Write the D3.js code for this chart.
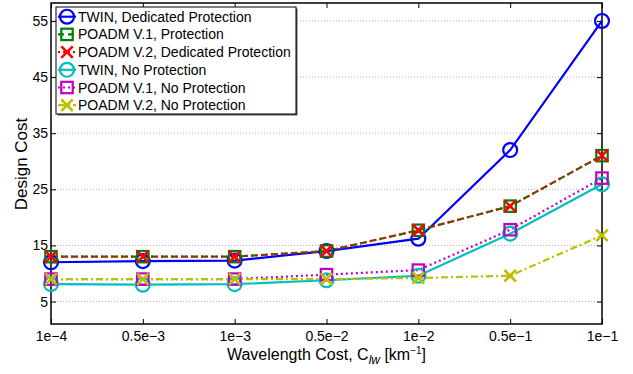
<!DOCTYPE html>
<html>
<head>
<meta charset="utf-8">
<script src="https://cdn.jsdelivr.net/npm/d3@7"></script>
<style>
  html, body { margin: 0; padding: 0; background: #fff; }
  svg { display: block; font-family: "Liberation Sans", Arial, Helvetica, sans-serif; }
</style>
</head>
<body>
<svg id="chart" width="633" height="374"></svg>
<script>
// Wavelength cost levels (x categories)
const categories = ["1e\u22124", "0.5e\u22123", "1e\u22123", "0.5e\u22122", "1e\u22122", "0.5e\u22121", "1e\u22121"];
const yTicks = [5, 15, 25, 35, 45, 55];

// Design cost per scheme
const twinDedicated   = [12, 12.2, 12.3, 14, 16.2, 32, 55];
const poadm1Protect   = [13, 13, 13, 14, 17.7, 22, 31];
const poadm2Dedicated = [13, 13, 13, 14, 17.7, 22, 31];
const twinNoProt      = [8.1, 8, 8.1, 8.8, 9.6, 17.1, 25.9];
const poadm1NoProt    = [9, 9, 9, 9.8, 10.6, 17.8, 27];
const poadm2NoProt    = [9, 9, 9, 9, 9.2, 9.6, 16.8];

const seriesNames = [
  "TWIN, Dedicated Protection",
  "POADM V.1, Protection",
  "POADM V.2, Dedicated Protection",
  "TWIN, No Protection",
  "POADM V.1, No Protection",
  "POADM V.2, No Protection"
];

const series = [
  { name: seriesNames[0], values: twinDedicated,   color: "#0000ff", dash: null,      marker: "circle" },
  { name: seriesNames[1], values: poadm1Protect,   color: "#008000", dash: "6,4",     marker: "square" },
  { name: seriesNames[2], values: poadm2Dedicated, color: "#ff0000", dash: "2,3",     marker: "cross" },
  { name: seriesNames[3], values: twinNoProt,      color: "#00bfbf", dash: null,      marker: "circle" },
  { name: seriesNames[4], values: poadm1NoProt,    color: "#bf00bf", dash: "2,3",     marker: "square" },
  { name: seriesNames[5], values: poadm2NoProt,    color: "#bfbf00", dash: "7,3,2,3", marker: "cross" }
];

const svg = d3.select("#chart");
const m = { left: 51, right: 31, top: 3, bottom: 50 };
const W = 633, H = 374;
const iw = W - m.left - m.right, ih = H - m.top - m.bottom;

const x = d3.scalePoint().domain(categories).range([0, iw]);
const y = d3.scaleLinear().domain([1, 58.2]).range([ih, 0]);

const g = svg.append("g").attr("transform", `translate(${m.left},${m.top})`);

// Horizontal dotted grid
g.append("g").selectAll("line").data(yTicks).join("line")
  .attr("x1", 0).attr("x2", iw)
  .attr("y1", d => y(d)).attr("y2", d => y(d))
  .attr("stroke", "#b0b0b0").attr("stroke-width", 1).attr("stroke-dasharray", "1,2");

// Axes with inward ticks
const tickLen = 5;
const xAxis = g.append("g").attr("transform", `translate(0,${ih})`)
  .call(d3.axisBottom(x).tickSizeInner(-tickLen).tickSizeOuter(0).tickPadding(7));
const xTop = g.append("g")
  .call(d3.axisTop(x).tickSizeInner(-tickLen).tickSizeOuter(0).tickFormat(""));
const yAxis = g.append("g")
  .call(d3.axisLeft(y).tickValues(yTicks).tickSizeInner(-tickLen).tickSizeOuter(0).tickPadding(3));
const yRight = g.append("g").attr("transform", `translate(${iw},0)`)
  .call(d3.axisRight(y).tickValues(yTicks).tickSizeInner(-tickLen).tickSizeOuter(0).tickFormat(""));

[xAxis, xTop, yAxis, yRight].forEach(a => {
  a.select(".domain").remove();
  a.selectAll("line").attr("stroke", "#000").attr("stroke-width", 1);
  a.selectAll("text").attr("fill", "#000").style("font-size", "14px")
    .style("font-family", "'Liberation Sans', Arial, sans-serif");
});

// Frame
g.append("rect").attr("x", 0).attr("y", 0).attr("width", iw).attr("height", ih)
  .attr("fill", "none").attr("stroke", "#000").attr("stroke-width", 1.5);

// Marker drawing helper
function drawMarker(sel, type, color, size) {
  if (type === "circle") {
    sel.append("circle").attr("r", size * 0.58).attr("fill", "none")
      .attr("stroke", color).attr("stroke-width", 2.2);
  } else if (type === "square") {
    const s = size * 0.95;
    sel.append("rect").attr("x", -s / 2).attr("y", -s / 2).attr("width", s).attr("height", s)
      .attr("fill", "none").attr("stroke", color).attr("stroke-width", 2.2);
  } else {
    const s = size * 0.48;
    sel.append("path").attr("d", `M${-s},${-s}L${s},${s}M${-s},${s}L${s},${-s}`)
      .attr("stroke", color).attr("stroke-width", 2.6).attr("fill", "none");
  }
}

const line = d3.line().x((d, i) => x(categories[i])).y(d => y(d));

// Lines
series.forEach(s => {
  g.append("path").datum(s.values)
    .attr("d", line)
    .attr("fill", "none")
    .attr("stroke", s.color)
    .attr("stroke-width", 2.2)
    .attr("stroke-dasharray", s.dash);
});

// Markers
series.forEach(s => {
  g.append("g").selectAll("g").data(s.values).join("g")
    .attr("transform", (d, i) => `translate(${x(categories[i])},${y(d)})`)
    .each(function () { drawMarker(d3.select(this), s.marker, s.color, 12); });
});

// Legend
const lg = svg.append("g").attr("transform", "translate(56,7)");
lg.append("rect").attr("x", 1.5).attr("y", 1.5).attr("width", 240).attr("height", 107)
  .attr("fill", "#555");
lg.append("rect").attr("x", 0).attr("y", 0).attr("width", 240).attr("height", 107)
  .attr("fill", "#fff").attr("stroke", "#000").attr("stroke-width", 1);
series.forEach((s, i) => {
  const row = lg.append("g").attr("transform", `translate(0,${9.7 + i * 17.7})`);
  row.append("line").attr("x1", 2).attr("x2", 20).attr("y1", 0).attr("y2", 0)
    .attr("stroke", s.color).attr("stroke-width", 2.2).attr("stroke-dasharray", s.dash);
  const mk = row.append("g").attr("transform", "translate(11,0)");
  drawMarker(mk, s.marker, s.color, 12);
  row.append("text").attr("x", 22).attr("y", 5).text(s.name)
    .style("font-size", "14px").attr("fill", "#000");
});

// Axis titles
svg.append("text")
  .attr("transform", `translate(27,164) rotate(-90)`)
  .attr("text-anchor", "middle")
  .style("font-size", "17px")
  .text("Design Cost");

const xt = svg.append("text")
  .attr("x", m.left + iw / 2).attr("y", 360)
  .attr("text-anchor", "middle")
  .style("font-size", "16px");
xt.append("tspan").text("Wavelength Cost, C");
xt.append("tspan").attr("dy", 4).style("font-size", "12px").style("font-style", "italic").text("lw");
xt.append("tspan").attr("dy", -4).text(" [km");
xt.append("tspan").attr("dy", -6).style("font-size", "10px").text("\u22121");
xt.append("tspan").attr("dy", 6).text("]");
</script>
</body>
</html>
